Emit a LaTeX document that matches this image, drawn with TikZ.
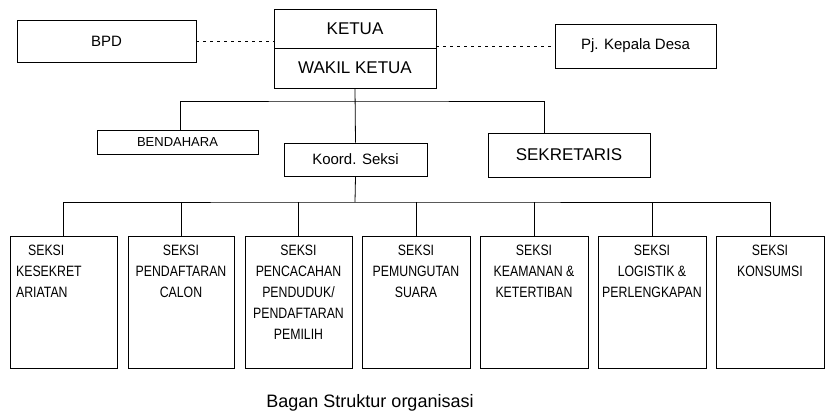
\documentclass[tikz,border=0pt]{standalone}
\usepackage{fontspec}
\setmainfont{Liberation Sans}
\begin{document}
\begin{tikzpicture}[x=1pt,y=-1pt,
  bx/.style={draw,line width=0.8pt,inner sep=0pt},
  ln/.style={line width=0.8pt},
  dl/.style={line width=0.6pt,dash pattern=on 3pt off 4pt},
  sx/.style={font=\fontsize{15}{21}\selectfont\addfontfeatures{FakeStretch=0.82},align=center,anchor=north}]
\useasboundingbox (0,0) rectangle (835,416);
\node[bx,minimum width=162pt,minimum height=39pt,font=\fontsize{17}{18}\selectfont] (ketua) at (355,29) {KETUA};
\node[bx,minimum width=162pt,minimum height=40pt,font=\fontsize{17}{18}\selectfont] (wakil) at (355,68) {WAKIL KETUA};
\node[bx,minimum width=179pt,minimum height=42pt,font=\fontsize{15}{16}\selectfont] (bpd) at (106.5,41) {BPD};
\node[bx,minimum width=161pt,minimum height=44pt,font=\fontsize{15}{16}\selectfont] (pj) at (635.5,46) {Pj. Kepala Desa};
\draw[dl] (bpd.east) -- (bpd.east -| ketua.west);
\draw[dl] (ketua.east |- pj.west) -- (pj.west);
\node[bx,minimum width=161pt,minimum height=24pt,font=\fontsize{13}{15}\selectfont] (bend) at (177.5,142) {BENDAHARA};
\node[bx,minimum width=143pt,minimum height=33pt,font=\fontsize{15}{16}\selectfont] (koord) at (355.5,159.5) {Koord. Seksi};
\node[bx,minimum width=162pt,minimum height=44pt,font=\fontsize{17}{18}\selectfont] (sekr) at (569,155) {SEKRETARIS};
\coordinate (j1) at (355,101);
\draw[ln] (wakil.south) -- (koord.north);
\draw[ln] (bend.north -| 180,0) |- (j1) -| (sekr.north -| 544,0);
\foreach \n/\x/\w in {a/63.5/107,b/181/106,c/298.5/107,d/416/108,e/534/108,f/652/108,g/770/108}{
  \node[bx,minimum width=\w pt,minimum height=132pt] (\n) at (\x,302) {};
}
\coordinate (j2) at (355,202);
\draw[ln] (koord.south) -- (j2);
\draw[ln] (a.north) |- (j2) -| (g.north);
\foreach \n in {b,c,d,e,f}{\draw[ln] (\n.north) -- (\n.north |- j2);}
\node[sx,anchor=north west,align=left] at ([xshift=3pt,yshift=-6pt]a.north west) {\hspace*{12pt}SEKSI\\KESEKRET\\ARIATAN};
\node[sx] at ([yshift=-6pt]b.north) {SEKSI\\PENDAFTARAN\\CALON};
\node[sx] at ([yshift=-6pt]c.north) {SEKSI\\PENCACAHAN\\PENDUDUK/\\PENDAFTARAN\\PEMILIH};
\node[sx] at ([yshift=-6pt]d.north) {SEKSI\\PEMUNGUTAN\\SUARA};
\node[sx] at ([yshift=-6pt]e.north) {SEKSI\\KEAMANAN \&\\KETERTIBAN};
\node[sx] at ([yshift=-6pt]f.north) {SEKSI\\LOGISTIK \&\\PERLENGKAPAN};
\node[sx] at ([yshift=-6pt]g.north) {SEKSI\\KONSUMSI};
\node[font=\fontsize{18}{20}\selectfont] (cap) at (370,403) {Bagan Struktur organisasi};
\end{tikzpicture}
\end{document}
